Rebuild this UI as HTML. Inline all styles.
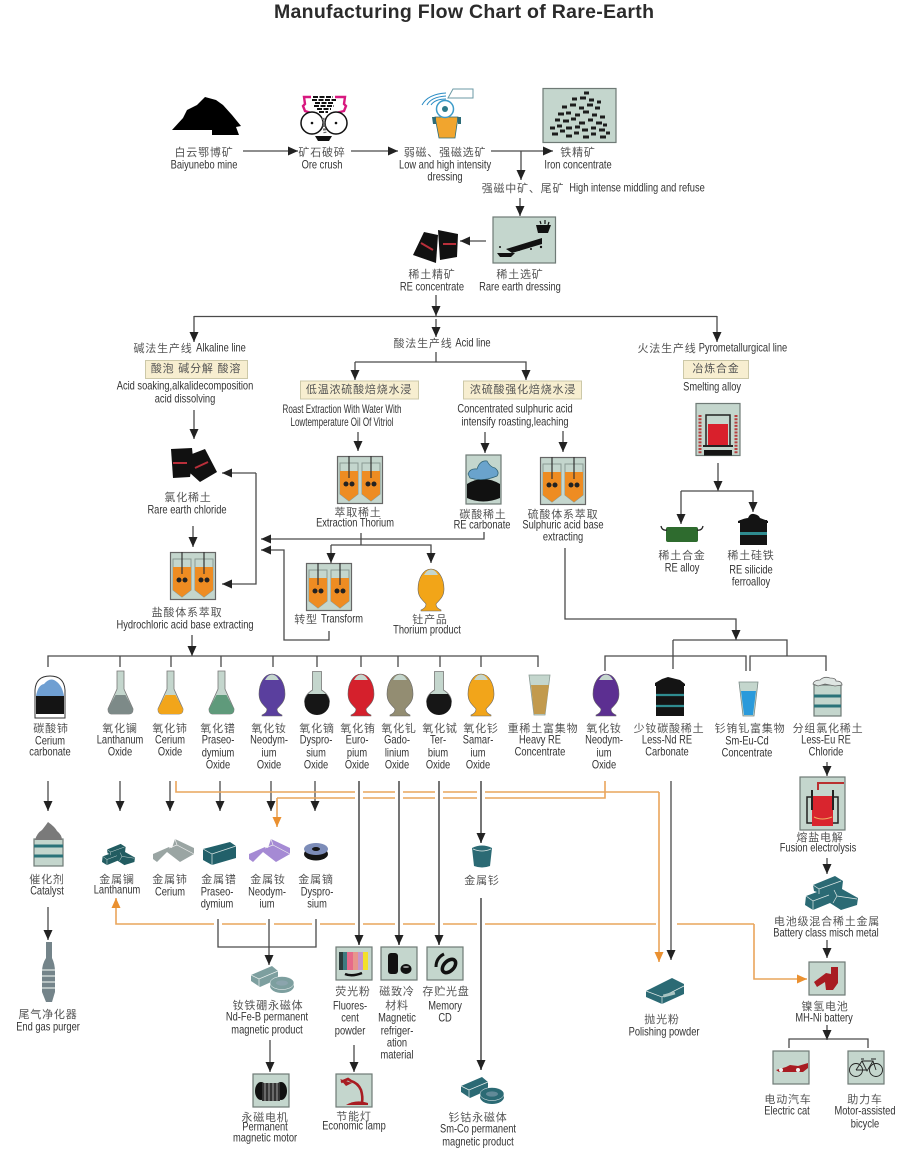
<!DOCTYPE html>
<html><head><meta charset="utf-8"><style>
html,body{margin:0;padding:0;background:#fff}
svg{display:block;filter:blur(.3px)}
text{text-anchor:middle;dominant-baseline:central}
.c{font:11px "Liberation Sans","Noto Sans CJK SC",sans-serif;fill:#555;letter-spacing:.8px}
.e{font:11.5px "Liberation Sans",sans-serif;fill:#333;transform-box:fill-box;transform-origin:center;transform:scaleX(.81)}
.n{transform:scaleX(.7)}
.l{fill:none;stroke:#4a4a4a;stroke-width:1.3}
.g{fill:none;stroke:#666;stroke-width:1.8}
.w{fill:none;stroke:#fff;stroke-width:8}
.o{fill:none;stroke:#e9a55c;stroke-width:1.6}
.b{fill:#f7eed0;stroke:#ccc8a8}
.p{fill:#c4d6cd;stroke:#6f7a76;stroke-width:1.2}
</style></head><body>
<svg width="913" height="1166" viewBox="0 0 913 1166" xmlns="http://www.w3.org/2000/svg">
<defs>
<marker id="a" markerUnits="userSpaceOnUse" markerWidth="11" markerHeight="10" refX="10" refY="4.5" orient="auto"><path d="M0 0L10 4.5L0 9Z" fill="#222"/></marker>
<marker id="n" markerUnits="userSpaceOnUse" markerWidth="11" markerHeight="10" refX="10" refY="4.5" orient="auto"><path d="M0 0L10 4.5L0 9Z" fill="#ea9030"/></marker>
<symbol id="tank" viewBox="0 0 46 48" width="46" height="48" overflow="visible">
<rect x=".5" y=".5" width="45" height="47" fill="#c4d6cd" stroke="#666" stroke-width="1.2"/>
<path d="M3 7H21V38L12 45L3 38ZM25 7H43V38L34 45L25 38Z" fill="#c4d6cd" stroke="#8a9a94"/>
<path d="M3 15H21V38L12 45L3 38ZM25 15H43V38L34 45L25 38Z" fill="#ee8c22"/>
<path d="M12 0V22M34 0V22" stroke="#333" stroke-width="1.2"/>
<circle cx="9" cy="28" r="2.5" fill="#222"/><circle cx="15" cy="28" r="2.5" fill="#222"/><circle cx="31" cy="28" r="2.5" fill="#222"/><circle cx="37" cy="28" r="2.5" fill="#222"/>
</symbol>
<symbol id="cone" viewBox="0 0 25 43" width="25" height="43" overflow="visible">
<path d="M9 0H16V18L25 38Q25 43 21 43H4Q0 43 0 38L9 18Z" fill="#c4d6cd" stroke="#777" stroke-width=".8"/>
<path d="M7.5 24H17.5L25 38Q25 43 21 43H4Q0 43 0 38Z" fill="currentColor"/>
</symbol>
<symbol id="vase" viewBox="0 0 26 42" width="26" height="42" overflow="visible">
<path d="M13 0C21 0 26 10 26 20C26 29 20 32 18 35Q18 39 23 41V42H3V41Q8 39 8 35C6 32 0 29 0 20C0 10 5 0 13 0Z" fill="currentColor" stroke="#666" stroke-width=".6"/>
<path d="M6 6Q9 .5 13 .5Q17 .5 20 6Z" fill="#c4d6cd"/>
</symbol>
<symbol id="round" viewBox="0 0 26 45" width="26" height="45" overflow="visible">
<path d="M8.500 .5H17.500V19Q25.500 24 25.500 31H.5Q.5 24 8.500 19Z" fill="#c4d6cd" stroke="#777" stroke-width=".8"/>
<path d="M4 23H22Q25.500 27 25.500 32A12.500 12 0 0 1 .5 32Q.5 27 4 23Z" fill="#161616"/>
</symbol>
<symbol id="ing" viewBox="0 0 53 34" width="53" height="34" overflow="visible">
<path d="M8 9L30 0L38 5L37 13L53 22L52 29L36 34L25 27L8 34L0 29L1 20L12 16L9 15Z" fill="currentColor"/>
<path d="M8 9L14 13L36 5M14 13V18M1 20L8 25L24 19M8 25V34M29 14L32 20L52 23M32 20L28 27" stroke="#dfe8e6" stroke-width=".7" fill="none"/>
</symbol>
<symbol id="bar" viewBox="0 0 41 23" width="41" height="23" overflow="visible">
<path d="M0 15L16 8L19 9L22 0L41 9V15L27 23L14 13L4 23L0 20Z" fill="currentColor"/>
<path d="M22 0L24 6L41 15M24 6L16 9" stroke="#eee" stroke-width=".7" fill="none"/>
</symbol>
<symbol id="mag" viewBox="0 0 43 27" width="43" height="27" overflow="visible">
<path d="M0 9L21 0L27 5V13L9 21L0 15Z" fill="currentColor"/>
<path d="M0 9L8 13L27 5M8 13V21" stroke="#eaf0ee" stroke-width=".7" fill="none"/>
<ellipse cx="31" cy="20" rx="12" ry="7" fill="currentColor"/>
<ellipse cx="31" cy="17" rx="12" ry="6.5" fill="currentColor" stroke="#fff" stroke-width=".5"/>
<ellipse cx="31" cy="17" rx="6" ry="2.6" fill="#9ab" opacity=".5"/>
</symbol>
</defs>

<text x="464" y="12" textLength="380" lengthAdjust="spacing" style="font:bold 19.500px 'Liberation Sans',sans-serif;fill:#2b2b2b">Manufacturing Flow Chart of Rare-Earth</text>

<!-- connectors -->
<path class="l" marker-end="url(#a)" d="M243 151H298"/>
<path class="l" marker-end="url(#a)" d="M351 151H398"/>
<path class="l" marker-end="url(#a)" d="M491 151H553"/>
<path class="l" marker-end="url(#a)" d="M521 151V180"/>
<path class="l" marker-end="url(#a)" d="M520 198V216"/>
<path class="l" marker-end="url(#a)" d="M486 241H460"/>
<path class="l" marker-end="url(#a)" d="M436 295V316"/>
<path class="l" d="M194 316.500H717"/>
<path class="l" marker-end="url(#a)" d="M194 316V342"/>
<path class="l" marker-end="url(#a)" d="M717 316V342"/>
<path class="l" marker-end="url(#a)" d="M436 319V337"/>
<path class="l" d="M436 352V362"/>
<path class="l" marker-end="url(#a)" d="M355 362H526V380"/>
<path class="l" marker-end="url(#a)" d="M355 362V380"/>
<path class="l" marker-end="url(#a)" d="M194 410V439"/>
<path class="l" marker-end="url(#a)" d="M193 526V547"/>
<path class="l" marker-end="url(#a)" d="M192 635V656"/>
<path class="l" marker-end="url(#a)" d="M256 473H222"/>
<path class="l" marker-end="url(#a)" d="M256 473V584H222"/>
<path class="l" marker-end="url(#a)" d="M358 432V451"/>
<path class="l" marker-end="url(#a)" d="M484 532V539H261"/>
<path class="l" d="M361 533V545"/>
<path class="l" marker-end="url(#a)" d="M331 545V563"/>
<path class="l" marker-end="url(#a)" d="M331 545H431V563"/>
<path class="l" marker-end="url(#a)" d="M329 631V640H284V550H261"/>
<path class="l" marker-end="url(#a)" d="M485 432V453"/>
<path class="l" marker-end="url(#a)" d="M563 431V452"/>
<path class="l" marker-end="url(#a)" d="M565 548V619H736V640"/>
<path class="l" d="M673 640H787V656M673 640V669M605 671V656H746V671M750 671V656H826V671"/>
<path class="l" marker-end="url(#a)" d="M718 463V491"/>
<path class="l" marker-end="url(#a)" d="M681 491V524"/>
<path class="l" marker-end="url(#a)" d="M681 491H753V512"/>
<path class="l" d="M48 667V656H538V667M120 656V667M171 656V667M221 656V667M273 656V667M317 656V667M361 656V667M398 656V667M440 656V667M481 656V667"/>
<path class="l" marker-end="url(#a)" d="M48 781V811"/>
<path class="l" marker-end="url(#a)" d="M120 781V811"/>
<path class="l" marker-end="url(#a)" d="M170 781V811"/>
<path class="l" marker-end="url(#a)" d="M220 781V811"/>
<path class="l" marker-end="url(#a)" d="M271 781V811"/>
<path class="l" marker-end="url(#a)" d="M315 781V811"/>
<path class="l" marker-end="url(#a)" d="M48 907V940"/>
<path class="o" d="M176 781V792H659"/>
<path class="o" d="M605 781V798H277"/>
<path class="o" marker-end="url(#n)" d="M277 798V827"/>
<path class="o" marker-end="url(#n)" d="M754 924H116V898"/>
<path class="o" marker-end="url(#n)" d="M754 924V979H807"/>
<rect x="656" y="921" width="21" height="6" fill="#fff"/>
<path class="o" marker-end="url(#n)" d="M659 792V962"/>
<path class="w" d="M218 919V927M270 919V927M316 919V927M359 787V802M359 919V929M399 787V802M399 919V929M439 787V802M439 919V929M481 787V802M481 919V929"/>
<path class="g" marker-end="url(#a)" d="M359 781V945"/>
<path class="g" marker-end="url(#a)" d="M399 781V945"/>
<path class="g" marker-end="url(#a)" d="M439 781V945"/>
<path class="g" marker-end="url(#a)" d="M481 781V843"/>
<path class="g" marker-end="url(#a)" d="M481 898V1070"/>
<path class="l" marker-end="url(#a)" d="M671 781V960"/>
<path class="l" d="M218 919V947H316V919"/>
<path class="l" marker-end="url(#a)" d="M269 919V965"/>
<path class="l" marker-end="url(#a)" d="M270 1040V1072"/>
<path class="l" marker-end="url(#a)" d="M354 1045V1072"/>
<path class="l" marker-end="url(#a)" d="M827 762V776"/>
<path class="l" marker-end="url(#a)" d="M827 858V874"/>
<path class="l" marker-end="url(#a)" d="M827 940V958"/>
<path class="l" marker-end="url(#a)" d="M827 1025V1040"/>
<path class="l" d="M789 1048V1039H868V1048"/>

<!-- top icons -->
<path d="M172 130L183 118L187 110L197 105L205 97L216 100L223 105L232 115L241 126L236 127L239 135H212V130Z" fill="#000"/>
<g>
<path d="M311 97H304L305 104L303 106L305 111L311 113" fill="none" stroke="#d8187f" stroke-width="2.4"/>
<path d="M336 97H346L345 104L347 106L345 111L337 113" fill="none" stroke="#d8187f" stroke-width="2.4" transform="translate(-1 0)"/>
<path d="M313 97h20M312 100h24M315 103h18M314 106h20M317 109h14M319 112h9" stroke="#111" stroke-width="2" stroke-dasharray="5 1.500"/>
<circle cx="312" cy="123" r="11" fill="#fff" stroke="#111" stroke-width="1.5"/><circle cx="312" cy="123" r="1.3" fill="#111"/>
<circle cx="336" cy="123" r="11" fill="#fff" stroke="#111" stroke-width="1.5"/><circle cx="336" cy="123" r="1.3" fill="#111"/>
<path d="M323 118l2 15" stroke="#666" stroke-width="3" stroke-dasharray="2 1.500"/>
<path d="M315 136H332L329 141H318Z" fill="#111"/>
</g>
<g>
<path d="M422 105Q428 94 446 93M427 105Q431 97 446 96M431 105Q435 99 446 99" fill="none" stroke="#2b8cc4" stroke-width="1"/>
<path d="M448 98L453 89H473V98Z" fill="#fff" stroke="#6b9aa5" stroke-width="1"/>
<path d="M435 117H458L455 138H439Z" fill="#f1a52e" stroke="#2d6c78" stroke-width=".8"/>
<path d="M432 117H436V124H433ZM457 117H461V124H458Z" fill="#2d6c78"/>
<circle cx="445" cy="109" r="8.500" fill="#fff" stroke="#3c9bc9" stroke-width="1.500"/><circle cx="445" cy="109" r="3" fill="#2d7a8a"/>
</g>
<rect class="p" x="543" y="88.500" width="73" height="54"/>
<path d="M552 134h6M560 131h5M566 136h6M574 133h5M583 137h6M591 134h5M600 137h6M606 133h4M550 128h5M557 126h5M566 128h6M575 127h5M582 130h6M591 128h5M599 130h6M555 120h5M563 121h6M571 119h5M579 123h6M588 120h5M596 123h6M603 125h4M558 114h6M566 113h5M575 115h5M583 112h6M592 115h5M600 117h5M562 107h5M570 105h6M579 108h5M587 105h6M595 108h5M572 99h5M580 98h6M589 100h5M597 102h4M584 93h5" stroke="#1d1d1d" stroke-width="3" fill="none"/>
<rect class="p" x="493" y="217" width="62.500" height="46"/>
<path d="M536 225H551L548 233H538Z" fill="#111"/><path d="M540 221l1 3M545 220l0 4M549 222l-1 3" stroke="#111" stroke-width="1.200"/>
<path d="M506 249L542 238V244L512 253Z" fill="#111"/>
<path d="M497 253H515L511 257H500Z" fill="#111"/><circle cx="500" cy="247" r="1" fill="#111"/><circle cx="519" cy="250" r="1" fill="#111"/><circle cx="531" cy="249" r="1" fill="#111"/><circle cx="541" cy="247" r="1.200" fill="#111"/>
<path d="M413 255L424 232L438 235L436 263Z" fill="#111"/><path d="M438 230L458 234L457 257L440 260Z" fill="#111"/>
<path d="M421 243L433 250M443 244H456" stroke="#b92f3a" stroke-width="2"/>

<!-- branch boxes -->
<rect class="b" x="145.500" y="360.500" width="102" height="18"/>
<rect class="b" x="300.500" y="381" width="118" height="18"/>
<rect class="b" x="463.500" y="381" width="118" height="18"/>
<rect class="b" x="683.500" y="360.500" width="65" height="18"/>

<!-- mid icons -->
<path d="M171 449L192 448L193 458L190 477L173 478Z" fill="#111"/><path d="M192 454L205 449L217 472L200 482L190 473Z" fill="#111"/>
<path d="M173 463H187M195 468L208 462" stroke="#b92f3a" stroke-width="2"/>
<use href="#tank" x="170" y="552"/><use href="#tank" x="337" y="456"/><use href="#tank" x="306" y="563"/><use href="#tank" x="540" y="457"/>
<use href="#vase" x="418" y="569" style="color:#f2a518"/>
<rect class="p" x="466" y="455" width="35" height="49"/>
<path d="M467 484Q483 474 500 484V498Q483 505 467 498Z" fill="#111"/>
<path d="M468 474Q470 468 477 469Q480 460 487 461Q490 467 495 468Q500 472 497 476Q483 482 470 478Z" fill="#6aa3cc" stroke="#2d5f70" stroke-width=".7"/>
<rect class="p" x="696" y="403.500" width="44" height="52"/>
<rect x="706" y="415" width="24" height="31" fill="#c4d6cd" stroke="#222" stroke-width="1.500"/>
<rect x="708" y="424" width="20" height="21" fill="#d9202c"/>
<path d="M703 446H733" stroke="#222" stroke-width="2"/><rect x="704" y="450" width="28" height="5.500" fill="#151515"/>
<path d="M700 415V454M736 415V454" stroke="#b84040" stroke-width="3" stroke-dasharray="2 1.300"/>
<rect x="666" y="527" width="32" height="15" rx="2" fill="#2e6b2e"/>
<path d="M661 526Q662 531 667 530M703 526Q702 531 697 530" fill="none" stroke="#222" stroke-width="1.300"/>
<rect x="740" y="520" width="27" height="25" fill="#141414"/><rect x="740" y="532" width="27" height="3" fill="#2f8c90"/>
<path d="M738 521Q745 518 748 518Q750 513 754 514Q759 515 760 518L768 521V523H738Z" fill="#141414"/>

<!-- oxides row -->
<path d="M35 718V690Q36 676 50 676Q64 676 65 690V718Z" fill="#fff" stroke="#333" stroke-width="1"/>
<path d="M36 696Q38 685 44 684Q49 678 54 680Q62 684 64 696Z" fill="#6f9fd2"/>
<path d="M36 696H64V714H36Z" fill="#141414"/>
<use href="#cone" x="108" y="671" style="color:#7d8a88"/>
<use href="#cone" x="158" y="671" style="color:#f2a51a"/>
<use href="#cone" x="209" y="671" style="color:#5f9a7b"/>
<use href="#vase" x="259" y="674" style="color:#5a3f9e"/>
<use href="#round" x="304" y="671"/>
<use href="#vase" x="348" y="674" style="color:#d5202c"/>
<use href="#vase" x="387" y="674" style="color:#938d72"/>
<use href="#round" x="426" y="671"/>
<use href="#vase" x="468" y="674" style="color:#f2a51a"/>
<path d="M529 675H550L545 715H534Z" fill="#c4d6cd" stroke="#8a9a94" stroke-width=".8"/><path d="M531 685H549L545 714H534Z" fill="#c29a4d"/>
<use href="#vase" x="593" y="674" style="color:#5c2f91"/>
<rect x="656" y="683" width="28" height="33" fill="#141414"/><path d="M655 683L662 679L668 677L680 680L685 684V686H655Z" fill="#141414"/><path d="M656 695H684M656 706H684" stroke="#2f8c90" stroke-width="2.200"/>
<path d="M739 682H758L754 716H743Z" fill="#c4d6cd" stroke="#7a8a86" stroke-width=".8"/><path d="M741 691H756L753 715H744Z" fill="#2a9adb"/>
<rect class="p" x="814" y="685" width="27" height="31"/><path d="M814 696H841M814 706H841" stroke="#2b7379" stroke-width="3"/>
<path d="M813 684Q814 680 820 680Q824 676 830 678Q836 678 836 681Q842 681 842 685L835 686L825 684L818 686Z" fill="#dfe6e3" stroke="#666" stroke-width=".8"/>

<!-- metals -->
<rect class="p" x="34" y="839" width="29" height="27"/><path d="M34 846H63M34 856H63" stroke="#2b7379" stroke-width="3"/>
<path d="M35 840Q37 833 42 830Q46 825 48 822Q55 827 57 831Q62 835 62 840Z" fill="#7a7a7a"/>
<path d="M46 942H52V958Q55 964 55 972V992L52 1002H46L42 992V972Q42 964 46 958Z" fill="#74848a"/>
<path d="M42 970H55M42 976H55M42 982H55M42 988H55" stroke="#dfe6e3" stroke-width="1.200"/>
<use href="#ing" x="102" y="843" width="33" height="23" style="color:#225c61"/>
<use href="#bar" x="153" y="839" style="color:#9aa5a3"/>
<path d="M203 849L230 842L236 846V858L212 865L203 860Z" fill="#22606a"/><path d="M203 849L212 854L236 846M212 854V865" stroke="#dfe8e6" stroke-width=".7" fill="none"/>
<use href="#bar" x="249" y="839" style="color:#a58ad4"/>
<ellipse cx="316" cy="854" rx="12" ry="6.500" fill="#141414"/><ellipse cx="316" cy="849" rx="12" ry="6" fill="#7c8cb8"/><ellipse cx="316" cy="849" rx="4" ry="2" fill="#141414"/>
<path d="M472 848Q482 843 492 848L490 866Q482 869 474 866Z" fill="#2b6a74"/><path d="M473 849Q482 853 491 849" stroke="#dfe8e6" stroke-width=".7" fill="none"/>

<use href="#mag" x="251" y="966" style="color:#7d9f9f"/>
<use href="#mag" x="461" y="1077" style="color:#2b6a74"/>

<rect class="p" x="336" y="947" width="36" height="33"/>
<g><rect x="339" y="952" width="4" height="18" fill="#2b3b3b"/><rect x="343" y="952" width="4" height="18" fill="#3f7a80"/><rect x="347" y="952" width="6" height="18" fill="#e66a8a"/><rect x="353" y="952" width="5" height="18" fill="#e7958c"/><rect x="358" y="952" width="5" height="18" fill="#c795cc"/><rect x="363" y="952" width="5" height="18" fill="#f3e02a"/><path d="M345 974Q352 977 362 973" stroke="#111" stroke-width="2.500" fill="none"/></g>
<rect class="p" x="381" y="947" width="36" height="33"/>
<rect x="388" y="953" width="10" height="21" rx="3" fill="#111"/><ellipse cx="406" cy="969" rx="5.500" ry="5" fill="#111"/><ellipse cx="406" cy="967" rx="3" ry="1" fill="#999"/>
<rect class="p" x="427" y="947" width="36" height="33"/>
<ellipse cx="449" cy="966" rx="8" ry="5" fill="none" stroke="#111" stroke-width="3.500" transform="rotate(-45 449 966)"/>
<path d="M436 967Q436 958 444 954" fill="none" stroke="#111" stroke-width="3"/>
<rect class="p" x="253" y="1074" width="36" height="33"/>
<ellipse cx="261" cy="1091" rx="6" ry="9" fill="#111"/><ellipse cx="281" cy="1091" rx="6" ry="9" fill="#111"/><rect x="262" y="1083" width="18" height="18" fill="#333"/><path d="M265 1083v18M269 1083v18M273 1083v18M277 1083v18" stroke="#bbb" stroke-width=".8"/>
<rect class="p" x="336" y="1074" width="36" height="33"/>
<path d="M341 1082L348 1079L351 1081Q358 1083 361 1090Q363 1097 362 1102" fill="none" stroke="#a81c22" stroke-width="2.600"/>
<path d="M346 1105Q356 1099 368 1103V1105Z" fill="#a81c22"/><path d="M340 1079L352 1083L346 1086Z" fill="#a81c22"/>

<!-- right column -->
<rect class="p" x="800" y="777" width="45" height="53"/>
<path d="M818 790V783H844" fill="none" stroke="#b93030" stroke-width="2"/>
<path d="M807 797H838V823H807Z" fill="none" stroke="#222" stroke-width="1.500"/>
<path d="M812 796H833V826H812Z" fill="#d9252e"/>
<path d="M812 790V810M833 790V810" stroke="#222" stroke-width="2"/>
<path d="M814 817Q822 821 832 817" stroke="#f0b060" fill="none"/>
<use href="#ing" x="805" y="876" style="color:#2b6a74"/>
<rect class="p" x="809" y="962" width="36" height="33"/>
<path d="M831 967H838V983L833 990H826L825 982L817 987L814 982L826 973L831 974Z" fill="#a81c22"/>
<rect class="p" x="773" y="1051" width="36" height="33"/>
<path d="M776 1070L786 1067L790 1065L798 1066L808 1063V1068L803 1072H779Z" fill="#a81c22"/><circle cx="781" cy="1070" r="2" fill="#eee"/><circle cx="798" cy="1070" r="2" fill="#eee"/>
<rect class="p" x="848" y="1051" width="36" height="33"/>
<g fill="none" stroke="#222" stroke-width=".9"><circle cx="856" cy="1070" r="6.500"/><circle cx="876" cy="1070" r="6.500"/><path d="M856 1070L862 1061H873L876 1070M862 1061L867 1071L873 1061M856 1070H867M861 1059H864M871 1059H876"/></g>
<path d="M646 991L672 978L684 984V994L662 1004L646 997Z" fill="#2b6a74"/><path d="M646 991L662 997L684 986M662 997V1004" stroke="#dfe8e6" stroke-width=".7" fill="none"/><rect x="663" y="993" width="12" height="3" fill="#a9c4c2" transform="rotate(-15 669 994)"/>

<!-- labels -->
<text class="c" x="204" y="153">白云鄂博矿</text><text class="e" x="204" y="166">Baiyunebo mine</text>
<text class="c" x="322" y="153">矿石破碎</text><text class="e" x="322" y="166">Ore crush</text>
<text class="c" x="445" y="153">弱磁、强磁选矿</text><text class="e" x="445" y="166">Low and high intensity</text><text class="e" x="445" y="178">dressing</text>
<text class="c" x="578" y="153">铁精矿</text><text class="e" x="578" y="166">Iron concentrate</text>
<text class="c" x="523" y="189">强磁中矿、尾矿</text><text class="e" x="637" y="189">High intense middling and refuse</text>
<text class="c" x="432" y="275">稀土精矿</text><text class="e" x="432" y="288">RE concentrate</text>
<text class="c" x="520" y="275">稀土选矿</text><text class="e" x="520" y="288">Rare earth dressing</text>
<text class="c" x="163" y="349">碱法生产线</text><text class="e" x="221" y="349">Alkaline line</text>
<text class="c" x="196" y="369">酸泡 碱分解 酸溶</text>
<text class="e" x="185" y="387">Acid soaking,alkalidecomposition</text><text class="e" x="185" y="400">acid dissolving</text>
<text class="c" x="423" y="344">酸法生产线</text><text class="e" x="473" y="344">Acid line</text>
<text class="c" x="359" y="390">低温浓硫酸焙烧水浸</text><text class="c" x="523" y="390">浓硫酸强化焙烧水浸</text>
<text class="e n" x="342" y="410">Roast Extraction With Water With</text><text class="e n" x="342" y="423">Lowtemperature Oil Of Vitriol</text>
<text class="e" x="515" y="410">Concentrated sulphuric acid</text><text class="e" x="515" y="423">intensify roasting,leaching</text>
<text class="c" x="667" y="349">火法生产线</text><text class="e" x="743" y="349">Pyrometallurgical line</text>
<text class="c" x="716" y="369">冶炼合金</text><text class="e" x="712" y="388">Smelting alloy</text>
<text class="c" x="188" y="498">氯化稀土</text><text class="e" x="187" y="511">Rare earth chloride</text>
<text class="c" x="187" y="613">盐酸体系萃取</text><text class="e" x="185" y="626">Hydrochloric acid base extracting</text>
<text class="c" x="358" y="513">萃取稀土</text><text class="e" x="355" y="524">Extraction Thorium</text>
<text class="c" x="483" y="515">碳酸稀土</text><text class="e" x="482" y="526">RE carbonate</text>
<text class="c" x="563" y="515">硫酸体系萃取</text><text class="e" x="563" y="526">Sulphuric acid base</text><text class="e" x="563" y="538">extracting</text>
<text class="c" x="306" y="620">转型</text><text class="e" x="342" y="620">Transform</text>
<text class="c" x="430" y="620">钍产品</text><text class="e" x="427" y="631">Thorium product</text>
<text class="c" x="682" y="556">稀土合金</text><text class="e" x="682" y="569">RE alloy</text>
<text class="c" x="751" y="556">稀土硅铁</text><text class="e" x="751" y="571">RE silicide</text><text class="e" x="751" y="583">ferroalloy</text>

<text class="c" x="51" y="729">碳酸铈</text><text class="e" x="50" y="742">Cerium</text><text class="e" x="50" y="753">carbonate</text>
<text class="c" x="120" y="729">氧化镧</text><text class="e" x="120" y="741">Lanthanum</text><text class="e" x="120" y="753">Oxide</text>
<text class="c" x="170" y="729">氧化铈</text><text class="e" x="170" y="741">Cerium</text><text class="e" x="170" y="753">Oxide</text>
<text class="c" x="218" y="729">氧化镨</text><text class="e" x="218" y="741">Praseo-</text><text class="e" x="218" y="754">dymium</text><text class="e" x="218" y="766">Oxide</text>
<text class="c" x="269" y="729">氧化钕</text><text class="e" x="269" y="741">Neodym-</text><text class="e" x="269" y="754">ium</text><text class="e" x="269" y="766">Oxide</text>
<text class="c" x="317" y="729">氧化镝</text><text class="e" x="316" y="741">Dyspro-</text><text class="e" x="316" y="754">sium</text><text class="e" x="316" y="766">Oxide</text>
<text class="c" x="358" y="729">氧化铕</text><text class="e" x="357" y="741">Euro-</text><text class="e" x="357" y="754">pium</text><text class="e" x="357" y="766">Oxide</text>
<text class="c" x="399" y="729">氧化钆</text><text class="e" x="397" y="741">Gado-</text><text class="e" x="397" y="754">linium</text><text class="e" x="397" y="766">Oxide</text>
<text class="c" x="440" y="729">氧化铽</text><text class="e" x="438" y="741">Ter-</text><text class="e" x="438" y="754">bium</text><text class="e" x="438" y="766">Oxide</text>
<text class="c" x="481" y="729">氧化钐</text><text class="e" x="478" y="741">Samar-</text><text class="e" x="478" y="754">ium</text><text class="e" x="478" y="766">Oxide</text>
<text class="c" x="543" y="729">重稀土富集物</text><text class="e" x="540" y="741">Heavy RE</text><text class="e" x="540" y="753">Concentrate</text>
<text class="c" x="604" y="729">氧化钕</text><text class="e" x="604" y="741">Neodym-</text><text class="e" x="604" y="754">ium</text><text class="e" x="604" y="766">Oxide</text>
<text class="c" x="669" y="729">少钕碳酸稀土</text><text class="e" x="667" y="741">Less-Nd RE</text><text class="e" x="667" y="753">Carbonate</text>
<text class="c" x="750" y="729">钐铕钆富集物</text><text class="e" x="747" y="742">Sm-Eu-Cd</text><text class="e" x="747" y="754">Concentrate</text>
<text class="c" x="828" y="729">分组氯化稀土</text><text class="e" x="826" y="741">Less-Eu RE</text><text class="e" x="826" y="753">Chloride</text>

<text class="c" x="47" y="880">催化剂</text><text class="e" x="47" y="892">Catalyst</text>
<text class="c" x="117" y="880">金属镧</text><text class="e" x="117" y="891">Lanthanum</text>
<text class="c" x="170" y="880">金属铈</text><text class="e" x="170" y="893">Cerium</text>
<text class="c" x="219" y="880">金属镨</text><text class="e" x="217" y="893">Praseo-</text><text class="e" x="217" y="905">dymium</text>
<text class="c" x="268" y="880">金属钕</text><text class="e" x="267" y="893">Neodym-</text><text class="e" x="267" y="905">ium</text>
<text class="c" x="316" y="880">金属镝</text><text class="e" x="317" y="893">Dyspro-</text><text class="e" x="317" y="905">sium</text>
<text class="c" x="482" y="881">金属钐</text>
<text class="c" x="48" y="1015">尾气净化器</text><text class="e" x="48" y="1028">End gas purger</text>
<text class="c" x="268" y="1006">钕铁硼永磁体</text><text class="e" x="267" y="1018">Nd-Fe-B permanent</text><text class="e" x="267" y="1031">magnetic product</text>
<text class="c" x="265" y="1118">永磁电机</text><text class="e" x="265" y="1128">Permanent</text><text class="e" x="265" y="1139">magnetic motor</text>
<text class="c" x="353" y="992">荧光粉</text><text class="e" x="350" y="1007">Fluores-</text><text class="e" x="350" y="1019">cent</text><text class="e" x="350" y="1032">powder</text>
<text class="c" x="397" y="992">磁致冷</text><text class="c" x="397" y="1006">材料</text><text class="e" x="397" y="1019">Magnetic</text><text class="e" x="397" y="1032">refriger-</text><text class="e" x="397" y="1044">ation</text><text class="e" x="397" y="1056">material</text>
<text class="c" x="446" y="992">存贮光盘</text><text class="e" x="445" y="1007">Memory</text><text class="e" x="445" y="1019">CD</text>
<text class="c" x="354" y="1117">节能灯</text><text class="e" x="354" y="1127">Economic lamp</text>
<text class="c" x="478" y="1118">钐钴永磁体</text><text class="e" x="478" y="1130">Sm-Co permanent</text><text class="e" x="478" y="1143">magnetic product</text>
<text class="c" x="820" y="838">熔盐电解</text><text class="e" x="818" y="849">Fusion electrolysis</text>
<text class="c" x="827" y="922">电池级混合稀土金属</text><text class="e" x="826" y="934">Battery class misch metal</text>
<text class="c" x="825" y="1007">镍氢电池</text><text class="e" x="824" y="1019">MH-Ni battery</text>
<text class="c" x="788" y="1100">电动汽车</text><text class="e" x="787" y="1112">Electric cat</text>
<text class="c" x="865" y="1100">助力车</text><text class="e" x="865" y="1112">Motor-assisted</text><text class="e" x="865" y="1125">bicycle</text>
<text class="c" x="662" y="1020">抛光粉</text><text class="e" x="664" y="1033">Polishing powder</text>
</svg>
</body></html>
